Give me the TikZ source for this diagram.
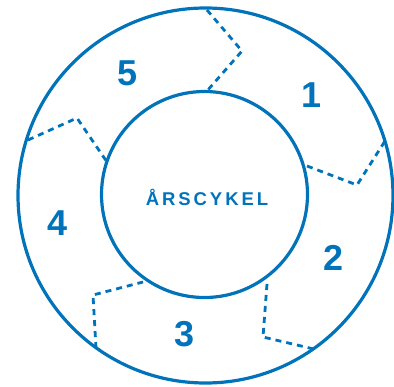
\documentclass[tikz,border=0pt]{standalone}
\usepackage{fontspec}
\setmainfont{Liberation Sans}
\newfontfamily\titlefont[LetterSpace=16,UprightFont={* Bold}]{Liberation Sans}
\definecolor{cyc}{RGB}{0,115,187}
\begin{document}
\begin{tikzpicture}[x=1pt,y=-1pt,
  ring/.style={draw=cyc,line width=3.2pt},
  divider/.style={draw=cyc,line width=2.8pt,dash pattern=on 6pt off 5pt},
  num/.style={text=cyc,font=\fontsize{36}{36}\selectfont\bfseries,inner sep=0pt}]
\useasboundingbox (0,0) rectangle (394,386);
\node[ring,circle,minimum size=375pt,inner sep=0pt] (outer) at (205.5,195.5) {};
\node[ring,circle,minimum size=206pt,inner sep=0pt] (inner) at (204.5,194.5) {};
\node[text=cyc,font=\titlefont\fontsize{18.5}{18.5}\selectfont,inner sep=0pt] (title) at (207,197) {ÅRSCYKEL};
% dividers
\coordinate (d1o) at (207,10); \coordinate (d1m) at (242,51); \coordinate (d1i) at (207,91);
\coordinate (d2i) at (307,166); \coordinate (d2m) at (357,185); \coordinate (d2o) at (385,141);
\coordinate (d3i) at (267,284); \coordinate (d3m) at (263,337); \coordinate (d3o) at (318,350);
\coordinate (d4o) at (96,348); \coordinate (d4m) at (93,295); \coordinate (d4i) at (143,282);
\coordinate (d5o) at (28,140); \coordinate (d5m) at (77,118); \coordinate (d5i) at (107,162);
\draw[divider] (d1o) -- (d1m) -- (d1i);
\draw[divider] (d2i) -- (d2m) -- (d2o);
\draw[divider] (d3i) -- (d3m) -- (d3o);
\draw[divider] (d4o) -- (d4m) -- (d4i);
\draw[divider] (d5o) -- (d5m) -- (d5i);
% numbers
\node[num] (n5) at (128,73) {5};
\node[num] (n1) at (312,95) {1};
\node[num] (n2) at (334,258) {2};
\node[num] (n3) at (185,334) {3};
\node[num] (n4) at (58,223) {4};
\end{tikzpicture}
\end{document}
